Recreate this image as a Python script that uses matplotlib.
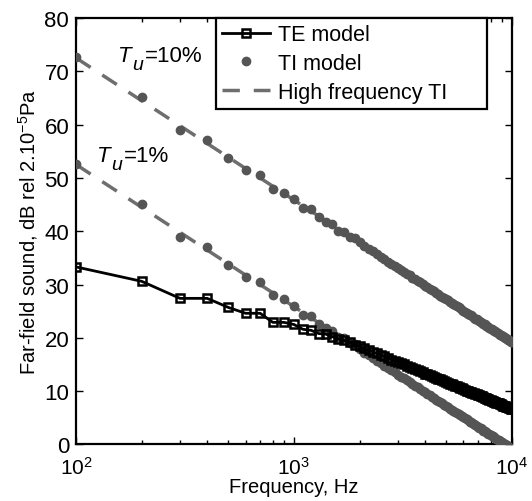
import numpy as np
import matplotlib
matplotlib.use("Agg")
import matplotlib.pyplot as plt

plt.rcParams['font.family'] = ['Liberation Sans', 'DejaVu Sans']
plt.rcParams['mathtext.fontset'] = 'custom'
plt.rcParams['mathtext.rm'] = 'Liberation Sans'
plt.rcParams['mathtext.it'] = 'Liberation Sans:italic'

# frequency grid, 100 Hz steps
freq = np.arange(100, 10001, 100)

te_model = [
    33.3, 30.6, 27.4, 27.4, 25.7, 24.6, 24.6, 22.9, 22.9, 22.5,
    21.6, 21.4, 20.8, 20.7, 20.2, 19.8, 19.5, 19.2, 18.7, 18.4,
    18.0, 17.7, 17.4, 17.1, 16.8, 16.5, 16.2, 15.9, 15.7, 15.4,
    15.2, 15.0, 14.7, 14.5, 14.3, 14.1, 13.9, 13.7, 13.5, 13.3,
    13.2, 13.0, 12.8, 12.7, 12.5, 12.3, 12.2, 12.0, 11.9, 11.7,
    11.6, 11.4, 11.3, 11.2, 11.0, 10.9, 10.8, 10.6, 10.5, 10.4,
    10.3, 10.1, 10.0, 9.9, 9.8, 9.7, 9.6, 9.5, 9.4, 9.3,
    9.2, 9.1, 9.0, 8.9, 8.8, 8.7, 8.6, 8.5, 8.4, 8.3,
    8.2, 8.1, 8.0, 7.9, 7.8, 7.8, 7.7, 7.6, 7.5, 7.4,
    7.3, 7.3, 7.2, 7.1, 7.0, 7.0, 6.9, 6.8, 6.7, 6.6,
]

ti_10 = [
    72.6, 65.1, 58.9, 57.1, 53.7, 51.5, 50.5, 48.0, 47.2, 46.0,
    44.3, 44.1, 42.6, 41.8, 41.3, 40.1, 39.9, 39.0, 38.8, 37.9,
    37.2, 36.7, 36.2, 35.7, 35.2, 34.8, 34.3, 33.9, 33.5, 33.1,
    32.7, 32.4, 32.0, 31.7, 31.3, 31.0, 30.7, 30.4, 30.1, 29.8,
    29.5, 29.2, 28.9, 28.7, 28.4, 28.2, 27.9, 27.7, 27.4, 27.2,
    27.0, 26.7, 26.5, 26.3, 26.1, 25.9, 25.7, 25.5, 25.3, 25.1,
    24.9, 24.7, 24.5, 24.3, 24.2, 24.0, 23.8, 23.6, 23.5, 23.3,
    23.1, 23.0, 22.8, 22.6, 22.5, 22.3, 22.2, 22.0, 21.9, 21.7,
    21.6, 21.5, 21.3, 21.2, 21.0, 20.9, 20.8, 20.6, 20.5, 20.4,
    20.3, 20.1, 20.0, 19.9, 19.8, 19.6, 19.5, 19.4, 19.3, 19.2,
]

ti_1 = [
    52.6, 45.1, 38.9, 37.1, 33.7, 31.5, 30.5, 28.0, 27.2, 26.0,
    24.3, 24.1, 22.6, 21.8, 21.3, 20.1, 19.9, 19.0, 18.8, 17.9,
    17.2, 16.7, 16.2, 15.7, 15.2, 14.8, 14.3, 13.9, 13.5, 13.1,
    12.7, 12.4, 12.0, 11.7, 11.3, 11.0, 10.7, 10.4, 10.1, 9.8,
    9.5, 9.2, 8.9, 8.7, 8.4, 8.2, 7.9, 7.7, 7.4, 7.2,
    7.0, 6.7, 6.5, 6.3, 6.1, 5.9, 5.7, 5.5, 5.3, 5.1,
    4.9, 4.7, 4.5, 4.3, 4.2, 4.0, 3.8, 3.6, 3.5, 3.3,
    3.1, 3.0, 2.8, 2.6, 2.5, 2.3, 2.2, 2.0, 1.9, 1.7,
    1.6, 1.5, 1.3, 1.2, 1.0, 0.9, 0.8, 0.6, 0.5, 0.4,
    0.3, 0.1, 0.0, -0.1, -0.2, -0.4, -0.5, -0.6, -0.7, -0.8,
]

# high frequency asymptotes (end points)
hf_freq = [100, 10000]
hf_10 = [72.5, 19.2]
hf_1 = [52.5, -0.8]

grey = '#555555'
dash_grey = '#6e6e6e'

fig = plt.figure(figsize=(5.32, 5.02), dpi=100)
ax = fig.add_axes([0.143, 0.1127, 0.819, 0.8495])

ax.plot(hf_freq, hf_10, color=dash_grey, lw=2.5, dashes=(5, 4), label='High frequency TI', zorder=2)
ax.plot(hf_freq, hf_1, color=dash_grey, lw=2.5, dashes=(5, 4), zorder=2)
ax.plot(freq, ti_10, 'o', color=grey, ms=6, mec=grey, label='TI model', zorder=3)
ax.plot(freq, ti_1, 'o', color=grey, ms=6, mec=grey, zorder=3)
ax.plot(freq, te_model, '-s', color='black', lw=2, ms=6, mfc='none', mec='black', mew=1.8,
        label='TE model', zorder=4)

ax.set_xscale('log')
ax.set_xlim(100, 10000)
ax.set_ylim(0, 80)
ax.set_yticks(range(0, 81, 10))
ax.tick_params(which='both', direction='in', top=True, right=True, labelsize=16, width=1, pad=5)
ax.tick_params(axis='x', pad=8, labelsize=15)
ax.tick_params(which='major', length=5)
ax.tick_params(which='minor', length=3)
for s in ax.spines.values():
    s.set_linewidth(1.6)

ax.set_xlabel('Frequency, Hz', fontsize=14.5, labelpad=0)
ax.set_ylabel('Far-field sound, dB rel 2.10$^{-5}$Pa', fontsize=14.5, labelpad=3)

# T_u annotations: italic T, lowered subscript u, then the value
for fx, fy, txt in [(156, 71.9, '=10%'), (125, 53.2, '=1%')]:
    ax.annotate('T', xy=(fx, fy), xytext=(0, 0), textcoords='offset points',
                fontsize=16, fontstyle='italic', va='baseline')
    ax.annotate('u', xy=(fx, fy), xytext=(10, -6), textcoords='offset points',
                fontsize=14, fontstyle='italic', va='baseline')
    ax.annotate(txt, xy=(fx, fy), xytext=(19.5, 0), textcoords='offset points',
                fontsize=16, va='baseline')

h, l = ax.get_legend_handles_labels()
order = [2, 1, 0]
leg = ax.legend([h[i] for i in order], [l[i] for i in order], loc='upper left',
                bbox_to_anchor=(0.321, 0.0, 0.622, 1.0), mode='expand', fontsize=15.5,
                fancybox=False, framealpha=1, edgecolor='black', borderpad=0.3,
                labelspacing=0.35, handlelength=2.2, handletextpad=0.4, borderaxespad=0)
leg.get_frame().set_linewidth(1.6)

fig.savefig('out.png', dpi=100)
